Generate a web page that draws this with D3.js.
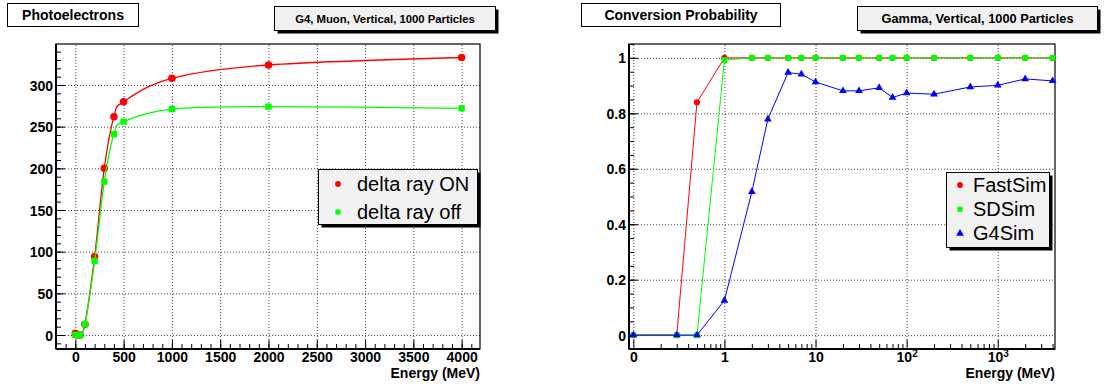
<!DOCTYPE html>
<html>
<head>
<meta charset="utf-8">
<script src="https://cdn.jsdelivr.net/npm/d3@7"></script>
<style>
body { margin: 0; background: #fff; }
svg { display: block; font-family: "Liberation Sans", Arial, Helvetica, sans-serif; }
.tick text { font-weight: bold; font-size: 14px; fill: #000; }
</style>
</head>
<body>
<svg id="chart" width="1105" height="384"></svg>
<script>
// left pad: photoelectrons vs muon energy (MeV)
var peEnergy   = [0, 25, 50, 100, 200, 300, 400, 500, 1000, 2000, 4000];
var peDeltaOn  = [2, 0, 0, 13, 94, 200, 262, 280, 308, 324, 333];
var peDeltaOff = [0, 0, 0, 13, 89, 184, 241, 256, 271, 274, 272];
var peXTicks = [0, 500, 1000, 1500, 2000, 2500, 3000, 3500, 4000];
var peYTicks = [0, 50, 100, 150, 200, 250, 300];

// right pad: conversion probability vs gamma energy (MeV)
var convEnergy = [0.1, 0.3, 0.5, 1, 2, 3, 5, 7, 10, 20, 30, 50, 70, 100, 200, 500, 1000, 2000, 4000];
var fastSim = [0, 0, 0.84, 1, 1, 1, 1, 1, 1, 1, 1, 1, 1, 1, 1, 1, 1, 1, 1];
var sdSim   = [0, 0, 0, 0.992, 1, 1, 1, 1, 1, 1, 1, 1, 1, 1, 1, 1, 1, 1, 1];
var g4Sim   = [0, 0, 0, 0.125, 0.517, 0.779, 0.947, 0.941, 0.913, 0.881, 0.881, 0.892, 0.857, 0.873, 0.869, 0.895, 0.901, 0.924, 0.917];
var convXTicks = [0.1, 1, 10, 100, 1000];
var convYTicks = [0, 0.2, 0.4, 0.6, 0.8, 1];

var svg = d3.select("#chart");

var L = {x0: 56, x1: 480, y0: 44, y1: 349};
var xL = d3.scaleLinear().domain([-200, 4190]).range([L.x0, L.x1]);
var yL = d3.scaleLinear().domain([-16.8, 349.2]).range([L.y1, L.y0]);

var R = {x0: 629, x1: 1055, y0: 44, y1: 349};
var xR = d3.scaleLog().domain([0.0897, 4250]).range([R.x0, R.x1]);
var yR = d3.scaleLinear().domain([-0.05, 1.05]).range([R.y1, R.y0]);

function noDomain(s) { s.select(".domain").remove(); }

function drawPad(p, x, y, xMajor, xMinor, yMajor, yMinor, xFmt, yFmt) {
  var g = svg.append("g");

  // dotted grid at the major ticks
  g.append("g").attr("transform", "translate(0," + p.y1 + ")")
    .call(d3.axisBottom(x).tickValues(xMajor).tickSize(-(p.y1 - p.y0)).tickFormat(""))
    .call(noDomain)
    .selectAll("line").attr("stroke", "#444").attr("stroke-dasharray", "1,2");
  g.append("g").attr("transform", "translate(" + p.x0 + ",0)")
    .call(d3.axisLeft(y).tickValues(yMajor).tickSize(-(p.x1 - p.x0)).tickFormat(""))
    .call(noDomain)
    .selectAll("line").attr("stroke", "#444").attr("stroke-dasharray", "1,2");

  // frame
  g.append("rect").attr("x", p.x0).attr("y", p.y0)
    .attr("width", p.x1 - p.x0).attr("height", p.y1 - p.y0)
    .attr("fill", "none").attr("stroke", "#000").attr("stroke-width", 1.2);

  // minor ticks (inside)
  g.append("g").attr("transform", "translate(0," + p.y1 + ")")
    .call(d3.axisBottom(x).tickValues(xMinor).tickSize(-5).tickFormat(""))
    .call(noDomain);
  g.append("g").attr("transform", "translate(" + p.x0 + ",0)")
    .call(d3.axisLeft(y).tickValues(yMinor).tickSize(-5).tickFormat(""))
    .call(noDomain);

  // major ticks + labels
  var xa = g.append("g").attr("transform", "translate(0," + p.y1 + ")")
    .call(d3.axisBottom(x).tickValues(xMajor).tickSize(-9).tickPadding(3).tickFormat(xFmt))
    .call(noDomain);
  g.append("g").attr("transform", "translate(" + p.x0 + ",0)")
    .call(d3.axisLeft(y).tickValues(yMajor).tickSize(-9).tickPadding(3).tickFormat(yFmt))
    .call(noDomain)
    .selectAll("text").attr("dy", "0.36em");

  // heavier left / bottom axis lines
  g.append("line").attr("x1", p.x0).attr("x2", p.x0).attr("y1", p.y0).attr("y2", p.y1)
    .attr("stroke", "#000").attr("stroke-width", 2);
  g.append("line").attr("x1", p.x0).attr("x2", p.x1).attr("y1", p.y1).attr("y2", p.y1)
    .attr("stroke", "#000").attr("stroke-width", 2);

  g.append("text").attr("x", p.x1).attr("y", 378).attr("text-anchor", "end")
    .attr("font-weight", "bold").attr("font-size", "14px").text("Energy (MeV)");

  return {g: g, xa: xa};
}

function series(g, x, y, xs, ys, color, curve, sym, size, width) {
  var pts = xs.map(function(d, i) { return [x(d), y(ys[i])]; });
  g.append("path").attr("d", d3.line().curve(curve)(pts))
    .attr("fill", "none").attr("stroke", color).attr("stroke-width", width);
  g.selectAll(null).data(pts).enter().append("path")
    .attr("transform", function(d) { return "translate(" + d[0] + "," + d[1] + ")"; })
    .attr("d", d3.symbol().type(sym).size(size))
    .attr("fill", color);
}

// ---------- left pad ----------
var padL = drawPad(L, xL, yL, peXTicks, d3.range(-100, 4200, 100),
  peYTicks, d3.range(-10, 350, 10), d3.format("d"), d3.format("d"));

// smooth curve parametrised by point index, like the ROOT "C" option
var plotL = padL.g.append("g");
series(plotL, xL, yL, peEnergy, peDeltaOn, "#ff0000", d3.curveCatmullRom.alpha(0), d3.symbolCircle, 44, 1.3);
series(plotL, xL, yL, peEnergy, peDeltaOff, "#00ff00", d3.curveCatmullRom.alpha(0), d3.symbolSquare, 40, 1.3);

// ---------- right pad ----------
var logMinor = [];
[0.1, 1, 10, 100, 1000].forEach(function(dec) {
  for (var m = 2; m <= 9; m++) logMinor.push(dec * m);
});
logMinor = logMinor.filter(function(v) { return v <= 4250; });

var padR = drawPad(R, xR, yR, convXTicks, logMinor,
  convYTicks, d3.range(-1, 22).map(function(i) { return i * 0.05; }),
  function(d) { return d < 1 ? "0" : d < 100 ? String(d) : "10"; },
  function(d) { return d === 0 ? "0" : d === 1 ? "1" : d3.format(".1f")(d); });

padR.xa.selectAll(".tick text").each(function(d) {
  if (d >= 100) {
    d3.select(this).append("tspan").attr("dy", "-0.45em").attr("font-size", "10px")
      .text(Math.round(Math.log10(d)));
  }
});

var plotR = padR.g.append("g");
series(plotR, xR, yR, convEnergy, fastSim, "#ff0000", d3.curveLinear, d3.symbolCircle, 30, 1);
series(plotR, xR, yR, convEnergy, sdSim, "#00ff00", d3.curveLinear, d3.symbolSquare, 32, 1);
series(plotR, xR, yR, convEnergy, g4Sim, "#0000ff", d3.curveLinear, d3.symbolTriangle, 26, 1);

// ---------- boxes ----------
function box(x, y, w, h, fill, shadow) {
  if (shadow) svg.append("rect").attr("x", x + shadow).attr("y", y + shadow)
    .attr("width", w).attr("height", h).attr("fill", "#000");
  svg.append("rect").attr("x", x).attr("y", y).attr("width", w).attr("height", h)
    .attr("fill", fill).attr("stroke", "#000").attr("stroke-width", 1);
}

function titleBox(x, y, w, h, label, size, fill, shadow) {
  box(x, y, w, h, fill, shadow);
  svg.append("text").attr("x", x + w / 2).attr("y", y + h / 2 + size * 0.36)
    .attr("text-anchor", "middle").attr("font-weight", "bold")
    .attr("font-size", size + "px").text(label);
}

titleBox(7.5, 3.5, 131, 23, "Photoelectrons", 14, "#fff", 0);
titleBox(274.5, 6.5, 221, 24, "G4, Muon, Vertical, 1000 Particles", 11.3, "#f0f0f0", 3);
titleBox(581.5, 3.5, 199, 23, "Conversion Probability", 14, "#fff", 0);
titleBox(857.5, 6.5, 240, 24, "Gamma, Vertical, 1000 Particles", 12.8, "#f0f0f0", 3);

// ---------- legends ----------
var legL = [{label: "delta ray ON", color: "#ff0000", sym: d3.symbolCircle},
            {label: "delta ray off", color: "#00ff00", sym: d3.symbolSquare}];
var legR = [{label: "FastSim", color: "#ff0000", sym: d3.symbolCircle},
            {label: "SDSim", color: "#00ff00", sym: d3.symbolSquare},
            {label: "G4Sim", color: "#0000ff", sym: d3.symbolTriangle}];

function legend(items, x, y, w, h, rowY0, rowStep, mx, tx) {
  box(x, y, w, h, "#f2f2f2", 3);
  items.forEach(function(it, i) {
    var cy = rowY0 + i * rowStep;
    svg.append("path").attr("transform", "translate(" + mx + "," + cy + ")")
      .attr("d", d3.symbol().type(it.sym).size(26)).attr("fill", it.color);
    svg.append("text").attr("x", tx).attr("y", cy + 7).attr("font-size", "20px")
      .attr("fill", "#000").text(it.label);
  });
}

legend(legL, 318.5, 169.5, 159, 55, 184, 28, 338, 357);
legend(legR, 946.5, 172.5, 103, 75, 185, 24.2, 960, 973);
</script>
</body>
</html>
